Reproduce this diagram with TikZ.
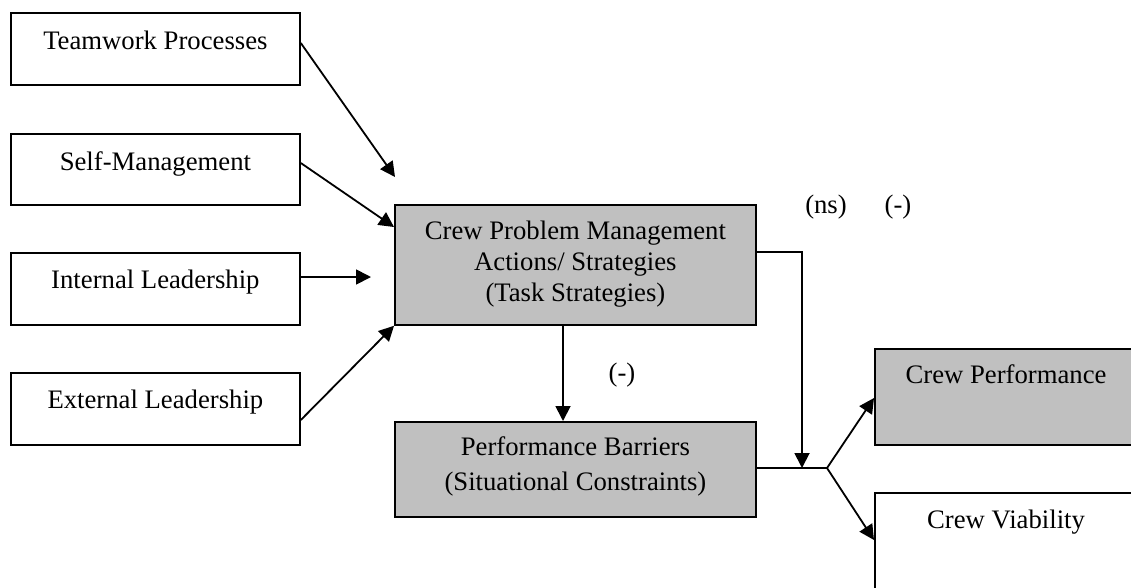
\documentclass[tikz,border=0pt]{standalone}
\usepackage{fontspec}
\setmainfont{Liberation Serif}
\usetikzlibrary{calc,arrows.meta}
\definecolor{boxgray}{RGB}{192,192,192}
\tikzset{
  box/.style={draw=black, line width=1.8pt, inner sep=0pt, anchor=north west},
  shaded/.style={box, fill=boxgray},
  txt/.style={inner sep=0pt, align=center, font=\fontsize{26.7}{31}\selectfont},
  note/.style={inner sep=0pt, anchor=base, font=\fontsize{26.7}{31}\selectfont},
  conn/.style={line width=1.8pt},
  arr/.style={conn, -{Triangle[length=15pt,width=15pt]}}
}
\begin{document}
\begin{tikzpicture}[x=1pt,y=-1pt]
\useasboundingbox (0,0) rectangle (1131,587);
\fill[white] (0,0) rectangle (1131,587);
\clip (0,0) rectangle (1131,587);

% input boxes on the left
\node[box, minimum width=289pt, minimum height=72pt] (tp) at (10,12) {};
\node[box, minimum width=289pt, minimum height=71pt] (sm) at (10,133) {};
\node[box, minimum width=289pt, minimum height=72pt] (il) at (10,252) {};
\node[box, minimum width=289pt, minimum height=72pt] (el) at (10,372) {};
\node[txt, anchor=base] (tp-t) at ($(tp.north)+(0,37)$) {Teamwork Processes};
\node[txt, anchor=base] (sm-t) at ($(sm.north)+(0,37)$) {Self-Management};
\node[txt, anchor=base] (il-t) at ($(il.north)+(0,36)$) {Internal Leadership};
\node[txt, anchor=base] (el-t) at ($(el.north)+(0,36)$) {External Leadership};

% central process boxes (base anchor of a multi-line node = last line)
\node[shaded, minimum width=361pt, minimum height=120pt] (cpm) at (394,204) {};
\node[txt, anchor=base] (cpm-t) at ($(cpm.north)+(0,97)$)
  {Crew Problem Management\\Actions/ Strategies\\(Task Strategies)};
\node[shaded, minimum width=361pt, minimum height=95pt] (pb) at (394,421) {};
\node[txt, anchor=base, font=\fontsize{26.7}{35}\selectfont] (pb-t) at ($(pb.north)+(0,69)$)
  {Performance Barriers\\(Situational Constraints)};

% outcome boxes on the right
\node[shaded, minimum width=270pt, minimum height=96pt] (cp) at (874,348) {};
\node[box, minimum width=270pt, minimum height=130pt] (cv) at (874,492) {};
\node[txt, anchor=base] (cp-t) at ($(cp.north west)+(132,35)$) {Crew Performance};
\node[txt, anchor=base] (cv-t) at ($(cv.north west)+(132,36)$) {Crew Viability};

% free ends and junctions
\coordinate (tp-end) at (395,177);
\coordinate (il-end) at (371,277);
\coordinate (m) at (802,468);
\coordinate (j) at (827,468);

% connectors
\draw[arr] ($(tp.north east)+(0,31)$) -- (tp-end);
\draw[arr] ($(sm.north east)+(0,30)$) -- ($(cpm.north west)+(0,23)$);
\draw[arr] ($(il.north east)+(0,25)$) -- (il-end);
\draw[arr] ($(el.north east)+(0,48)$) -- (cpm.south west);
\draw[arr] ($(cpm.south west)+(169,0)$) -- ($(pb.north west)+(169,0)$);
\draw[arr] ($(cpm.north east)+(0,48)$) -| (m);
\draw[conn] (pb.east |- j) -- (j);
\draw[arr] (j) -- ($(cp.north west)+(0,50)$);
\draw[arr] (j) -- ($(cv.north west)+(0,48)$);

% path labels
\node[note] (lb-down) at (622,381) {(-)};
\node[note] (lb-ns) at (826,213) {(ns)};
\node[note] (lb-neg) at (898,213) {(-)};
\end{tikzpicture}
\end{document}
